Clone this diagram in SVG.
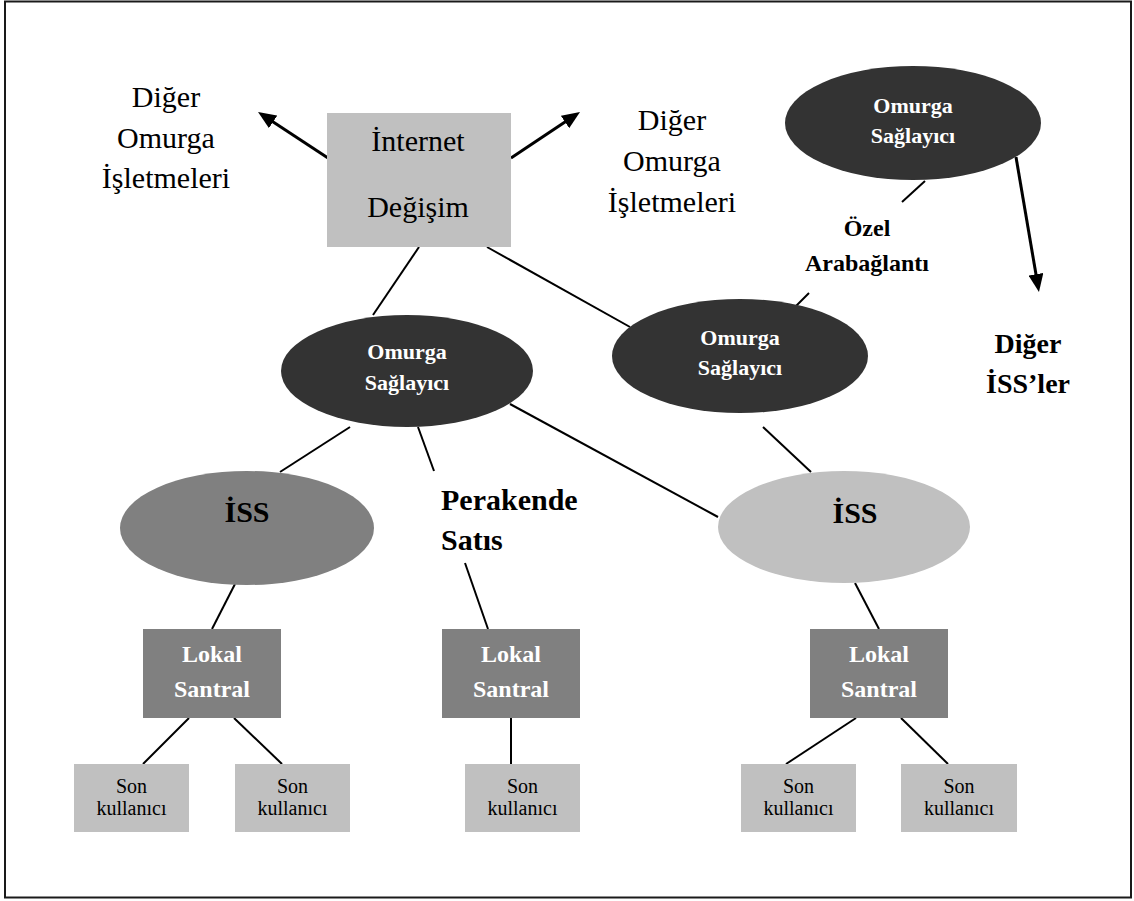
<svg xmlns="http://www.w3.org/2000/svg" width="1134" height="901" viewBox="0 0 1134 901" font-family="'Liberation Serif', 'DejaVu Serif', serif">
  <style>
    text { font-family: "Liberation Serif", "DejaVu Serif", serif; text-anchor: middle; }
    text.start { text-anchor: start; }
    .conn { stroke: #000; stroke-width: 2; fill: none; }
    .arrow { stroke: #000; stroke-width: 3; fill: none; marker-end: url(#head); }
    .dark { fill: #333333; }
    .mid { fill: #808080; }
    .light { fill: #c0c0c0; }
    .plain { font-size: 30px; fill: #000; }
    .omurga { font-size: 22px; font-weight: bold; fill: #fff; }
    .lokal { font-size: 24px; font-weight: bold; fill: #fff; }
    .son { font-size: 20px; fill: #000; }
    .iss { font-size: 30px; font-weight: bold; fill: #000; }
    .label { font-weight: bold; fill: #000; }
  </style>
  <defs>
    <marker id="head" markerUnits="userSpaceOnUse" markerWidth="18" markerHeight="15" refX="8" refY="7.5" orient="auto">
      <path d="M0,0 L18,7.5 L0,15 z" fill="#000"/>
    </marker>
  </defs>

  <rect x="0" y="0" width="1134" height="901" fill="#fff"/>
  <!-- frame -->
  <rect x="5" y="1.5" width="1126" height="896" fill="none" stroke="#1a1a1a" stroke-width="2"/>

  <!-- connectors -->
  <g id="connectors">
    <line class="arrow" x1="328" y1="158" x2="266.4" y2="117.5"/>
    <line class="arrow" x1="511" y1="158" x2="571.7" y2="117.5"/>
    <line class="arrow" x1="1016" y1="157" x2="1037.3" y2="282.1"/>
    <line class="conn" x1="419" y1="247" x2="373" y2="315"/>
    <line class="conn" x1="487" y1="247" x2="630" y2="327"/>
    <line class="conn" x1="925" y1="181" x2="902" y2="202"/>
    <line class="conn" x1="809" y1="293" x2="795" y2="307"/>
    <line class="conn" x1="350" y1="427" x2="280" y2="472"/>
    <line class="conn" x1="418" y1="427" x2="434" y2="471"/>
    <line class="conn" x1="510" y1="404" x2="718" y2="517"/>
    <line class="conn" x1="763" y1="427" x2="811" y2="472"/>
    <line class="conn" x1="235" y1="584" x2="212" y2="629"/>
    <line class="conn" x1="465" y1="563" x2="488" y2="629"/>
    <line class="conn" x1="855" y1="583" x2="879" y2="629"/>
    <line class="conn" x1="189" y1="718" x2="143" y2="764"/>
    <line class="conn" x1="234" y1="718" x2="282" y2="764"/>
    <line class="conn" x1="511" y1="718" x2="511" y2="764"/>
    <line class="conn" x1="856" y1="718" x2="786" y2="764"/>
    <line class="conn" x1="901" y1="718" x2="948" y2="764"/>
  </g>

  <!-- free labels -->
  <g id="diger-omurga-left">
    <text class="plain" x="166" y="107">Diğer</text>
    <text class="plain" x="166" y="148">Omurga</text>
    <text class="plain" x="166" y="188">İşletmeleri</text>
  </g>
  <g id="diger-omurga-right">
    <text class="plain" x="672" y="130">Diğer</text>
    <text class="plain" x="672" y="171">Omurga</text>
    <text class="plain" x="672" y="212">İşletmeleri</text>
  </g>
  <g id="ozel-arabaglanti">
    <text class="label" font-size="24" x="867" y="236">Özel</text>
    <text class="label" font-size="24" x="867" y="271">Arabağlantı</text>
  </g>
  <g id="diger-iss">
    <text class="label" font-size="28" x="1028" y="353">Diğer</text>
    <text class="label" font-size="28" x="1028" y="393">İSS’ler</text>
  </g>
  <g id="perakende">
    <text class="label start" font-size="30" x="441" y="510">Perakende</text>
    <text class="label start" font-size="30" x="441" y="550">Satıs</text>
  </g>

  <!-- nodes -->
  <g id="internet-degisim">
    <rect class="light" x="327" y="113" width="184" height="134"/>
    <text class="plain" font-size="31" x="418" y="151">İnternet</text>
    <text class="plain" font-size="31" x="418" y="217">Değişim</text>
  </g>
  <g id="omurga-top">
    <ellipse class="dark" cx="913" cy="123" rx="128" ry="57"/>
    <text class="omurga" x="913" y="113">Omurga</text>
    <text class="omurga" x="913" y="143">Sağlayıcı</text>
  </g>
  <g id="omurga-left">
    <ellipse class="dark" cx="407" cy="371" rx="126" ry="56"/>
    <text class="omurga" x="407" y="359">Omurga</text>
    <text class="omurga" x="407" y="390">Sağlayıcı</text>
  </g>
  <g id="omurga-right">
    <ellipse class="dark" cx="740" cy="356" rx="128" ry="57"/>
    <text class="omurga" x="740" y="345">Omurga</text>
    <text class="omurga" x="740" y="375">Sağlayıcı</text>
  </g>
  <g id="iss-left">
    <ellipse class="mid" cx="247" cy="528" rx="127" ry="57"/>
    <text class="iss" x="247" y="522">İSS</text>
  </g>
  <g id="iss-right">
    <ellipse class="light" cx="844" cy="527" rx="126" ry="56"/>
    <text class="iss" x="855" y="523">İSS</text>
  </g>
  <g id="lokal-left">
    <rect class="mid" x="143" y="629" width="138" height="89"/>
    <text class="lokal" x="212" y="662">Lokal</text>
    <text class="lokal" x="212" y="697">Santral</text>
  </g>
  <g id="lokal-mid">
    <rect class="mid" x="442" y="629" width="138" height="89"/>
    <text class="lokal" x="511" y="662">Lokal</text>
    <text class="lokal" x="511" y="697">Santral</text>
  </g>
  <g id="lokal-right">
    <rect class="mid" x="810" y="629" width="138" height="89"/>
    <text class="lokal" x="879" y="662">Lokal</text>
    <text class="lokal" x="879" y="697">Santral</text>
  </g>
  <g id="son-1">
    <rect class="light" x="74" y="764" width="115" height="68"/>
    <text class="son" x="131.5" y="793">Son</text>
    <text class="son" x="131.5" y="815">kullanıcı</text>
  </g>
  <g id="son-2">
    <rect class="light" x="235" y="764" width="115" height="68"/>
    <text class="son" x="292.5" y="793">Son</text>
    <text class="son" x="292.5" y="815">kullanıcı</text>
  </g>
  <g id="son-3">
    <rect class="light" x="465" y="764" width="115" height="68"/>
    <text class="son" x="522.5" y="793">Son</text>
    <text class="son" x="522.5" y="815">kullanıcı</text>
  </g>
  <g id="son-4">
    <rect class="light" x="741" y="764" width="115" height="68"/>
    <text class="son" x="798.5" y="793">Son</text>
    <text class="son" x="798.5" y="815">kullanıcı</text>
  </g>
  <g id="son-5">
    <rect class="light" x="901" y="764" width="116" height="68"/>
    <text class="son" x="959" y="793">Son</text>
    <text class="son" x="959" y="815">kullanıcı</text>
  </g>
</svg>
